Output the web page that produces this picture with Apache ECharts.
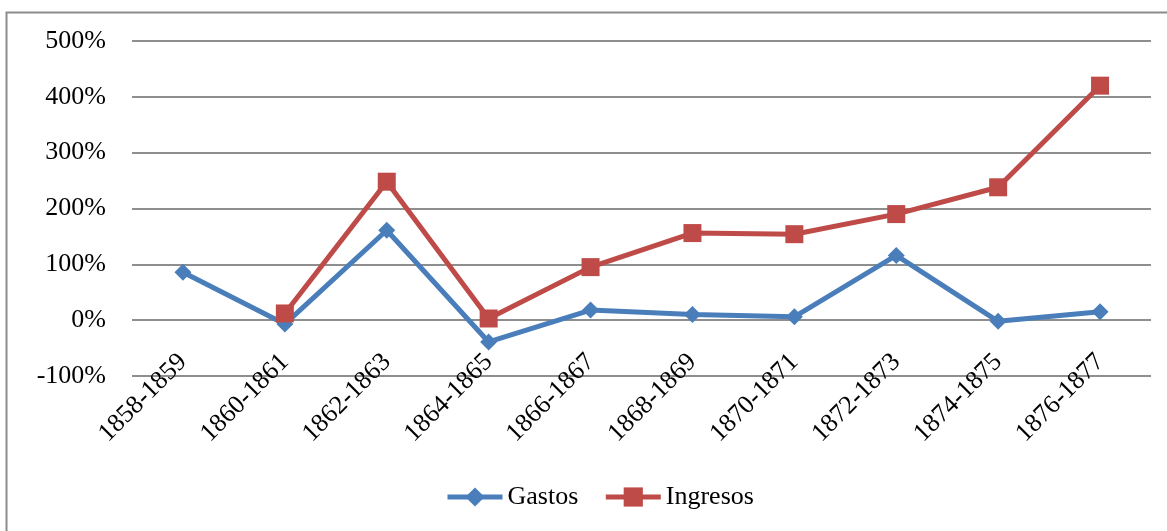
<!DOCTYPE html>
<html>
<head>
<meta charset="utf-8">
<script src="https://cdn.jsdelivr.net/npm/echarts@6/dist/echarts.min.js"></script>
<style>
  html, body { margin: 0; padding: 0; background: #fff; }
  #chart { width: 1167px; height: 531px; }
</style>
</head>
<body>
<div id="chart"></div>
<script>
// Periods (two-year spans)
const periods = ['1858-1859', '1860-1861', '1862-1863', '1864-1865', '1866-1867',
                 '1868-1869', '1870-1871', '1872-1873', '1874-1875', '1876-1877'];
// Percentage change, in %
const gastos   = [86, -7, 161, -39, 18, 10, 6, 116, -2, 15];
const ingresos = [null, 12, 248, 3, 95, 156, 154, 190, 238, 420];

const FONT = '"Liberation Serif", "Times New Roman", serif';

const chart = echarts.init(document.getElementById('chart'), null, { renderer: 'canvas' });
chart.setOption({
  animation: false,
  backgroundColor: '#ffffff',
  textStyle: { fontFamily: FONT },
  graphic: [{
    type: 'rect',
    shape: { x: 6.5, y: 12.5, width: 1200, height: 560 },
    style: { fill: 'none', stroke: '#8c8c8c', lineWidth: 2 },
    silent: true, z: -1
  }],
  grid: { left: 132, right: 16, top: 41, bottom: 155, containLabel: false },
  legend: {
    left: 445,
    top: 484,
    padding: 0,
    itemWidth: 55,
    itemHeight: 24,
    itemGap: 25,
    lineStyle: { width: 5 },
    textStyle: { fontFamily: FONT, fontSize: 26, color: '#000' },
    data: ['Gastos', 'Ingresos']
  },
  xAxis: {
    type: 'category',
    data: periods,
    boundaryGap: true,
    axisLine: { show: false },
    axisTick: { show: false },
    axisLabel: {
      rotate: 45,
      interval: 0,
      margin: -18,
      fontFamily: FONT,
      fontSize: 26,
      color: '#000'
    }
  },
  yAxis: {
    type: 'value',
    min: -100,
    max: 500,
    interval: 100,
    axisLine: { show: false },
    axisTick: { show: false },
    axisLabel: {
      formatter: '{value}%',
      margin: 26,
      fontFamily: FONT,
      fontSize: 26,
      color: '#000'
    },
    splitLine: { lineStyle: { color: '#8e8e8e', width: 2 } }
  },
  series: [
    {
      name: 'Gastos',
      type: 'line',
      data: gastos,
      symbol: 'diamond',
      symbolSize: 17,
      itemStyle: { color: '#4a7ebb' },
      lineStyle: { color: '#4a7ebb', width: 5 },
      z: 3
    },
    {
      name: 'Ingresos',
      type: 'line',
      data: ingresos,
      symbol: 'rect',
      symbolSize: 18,
      itemStyle: { color: '#be4b48' },
      lineStyle: { color: '#be4b48', width: 5 },
      z: 4
    }
  ]
});
</script>
</body>
</html>
